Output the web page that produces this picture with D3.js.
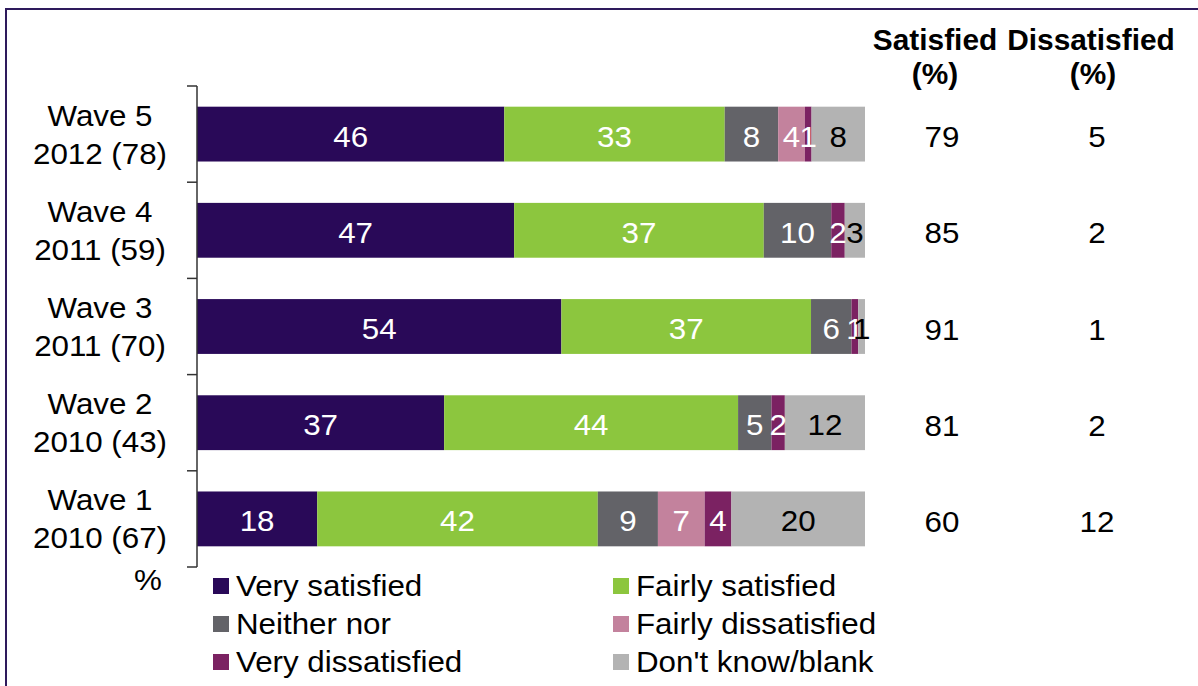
<!DOCTYPE html>
<html>
<head>
<meta charset="utf-8">
<script src="https://cdn.jsdelivr.net/npm/d3@7"></script>
<style>
  html, body { margin: 0; padding: 0; background: #fff; }
  svg { display: block; font-family: "Liberation Sans", Arial, sans-serif; }
</style>
</head>
<body>
<svg id="chart" width="1198" height="686"></svg>
<script>
// Satisfaction by survey wave (percent of respondents)
const waves = ["Wave 5", "Wave 4", "Wave 3", "Wave 2", "Wave 1"];
const waveYears = ["2012 (78)", "2011 (59)", "2011 (70)", "2010 (43)", "2010 (67)"];
const seriesNames = ["Very satisfied", "Fairly satisfied", "Neither nor",
                     "Fairly dissatisfied", "Very dissatisfied", "Don't know/blank"];
const verySatisfied      = [46, 47, 54, 37, 18];
const fairlySatisfied    = [33, 37, 37, 44, 42];
const neitherNor         = [8, 10, 6, 5, 9];
const fairlyDissatisfied = [4, 0, 0, 0, 7];
const veryDissatisfied   = [1, 2, 1, 2, 4];
const dontKnow           = [8, 3, 1, 12, 20];
const satisfiedTotal     = [79, 85, 91, 81, 60];
const dissatisfiedTotal  = [5, 2, 1, 2, 12];
const colors = ["#290958", "#8cc63e", "#636368", "#c3829d", "#7b2262", "#b3b3b3"];
const labelColors = ["#fff", "#fff", "#fff", "#fff", "#fff", "#000"];

const seriesValues = [verySatisfied, fairlySatisfied, neitherNor,
                      fairlyDissatisfied, veryDissatisfied, dontKnow];
const rows = waves.map((w, i) => {
  const r = { wave: w };
  seriesNames.forEach((s, k) => r[s] = seriesValues[k][i]);
  return r;
});

const svg = d3.select("#chart");
const STRETCH = 1.08;   // slightly wide lettering

// text placed at (x, y) with a horizontal stretch
function label(g, x, y, str, anchor) {
  return g.append("text")
    .attr("transform", `translate(${x},${y}) scale(${STRETCH},1)`)
    .attr("text-anchor", anchor || "middle")
    .text(str);
}

// frame
svg.append("path")
  .attr("d", "M6,686V9H1198")
  .attr("fill", "none")
  .attr("stroke", "#2e1a5c")
  .attr("stroke-width", 2);

const x = d3.scaleLinear().domain([0, 1]).range([197, 865]);
const y = d3.scaleBand().domain(waves).range([86, 567])
  .paddingInner(0.43).paddingOuter(0.215);
const color = d3.scaleOrdinal().domain(seriesNames).range(colors);
const labelColor = d3.scaleOrdinal().domain(seriesNames).range(labelColors);

// each bar is normalised to its own total (100% stacked)
const stacked = d3.stack().keys(seriesNames).offset(d3.stackOffsetExpand)(rows);

const layers = svg.append("g").selectAll("g").data(stacked).join("g")
  .attr("fill", d => color(d.key));

layers.selectAll("rect").data(d => d).join("rect")
  .attr("x", d => x(d[0]))
  .attr("y", d => y(d.data.wave))
  .attr("width", d => x(d[1]) - x(d[0]))
  .attr("height", y.bandwidth());

// segment value labels
stacked.forEach(layer => {
  const g = svg.append("g").attr("font-size", 29).attr("fill", labelColor(layer.key));
  layer.filter(d => d.data[layer.key] > 0).forEach(d => {
    label(g, (x(d[0]) + x(d[1])) / 2, y(d.data.wave) + y.bandwidth() / 2 + 12.5,
          d.data[layer.key]);
  });
});

// category axis: vertical line with ticks on band boundaries
const step = y.step();
const bounds = d3.range(waves.length + 1).map(i => y.range()[0] + i * step);
const axis = svg.append("g").attr("stroke", "#333").attr("stroke-width", 1.5);
axis.append("line")
  .attr("x1", x(0)).attr("x2", x(0))
  .attr("y1", bounds[0]).attr("y2", bounds[bounds.length - 1]);
axis.selectAll("line.tick").data(bounds).join("line")
  .attr("class", "tick")
  .attr("x1", x(0) - 10).attr("x2", x(0))
  .attr("y1", d => d).attr("y2", d => d);

// category labels (two lines)
const catLabels = svg.append("g").attr("font-size", 29).attr("fill", "#000");
waves.forEach((w, i) => {
  const cy = y(w) + y.bandwidth() / 2;
  label(catLabels, 100, cy - 8.5, w);
  label(catLabels, 100, cy + 29.5, waveYears[i]);
});
label(catLabels, 148, 590, "%");

// totals columns
const totals = svg.append("g").attr("font-size", 29).attr("fill", "#000");
waves.forEach((w, i) => {
  const cy = y(w) + y.bandwidth() / 2;
  label(totals, 942, cy + 13, satisfiedTotal[i]);
  label(totals, 1097, cy + 13, dissatisfiedTotal[i]);
});
const heads = svg.append("g").attr("font-size", 29).attr("font-weight", "bold").attr("fill", "#000");
heads.append("text").attr("transform", "translate(935,50) scale(1.03,1)").attr("text-anchor", "middle").text("Satisfied");
heads.append("text").attr("transform", "translate(935,84) scale(1.03,1)").attr("text-anchor", "middle").text("(%)");
heads.append("text").attr("transform", "translate(1091,50) scale(1.03,1)").attr("text-anchor", "middle").text("Dissatisfied");
heads.append("text").attr("transform", "translate(1093,84) scale(1.03,1)").attr("text-anchor", "middle").text("(%)");

// legend, two columns
const legend = svg.append("g").attr("font-size", 29).attr("fill", "#000");
seriesNames.forEach((s, k) => {
  const col = k % 2, row = Math.floor(k / 2);
  const lx = 213 + col * 400, ly = 586 + row * 38;
  legend.append("rect").attr("x", lx).attr("y", ly - 8).attr("width", 16).attr("height", 16)
    .attr("fill", color(s));
  label(legend, lx + 23, ly + 10, s, "start");
});
</script>
</body>
</html>
